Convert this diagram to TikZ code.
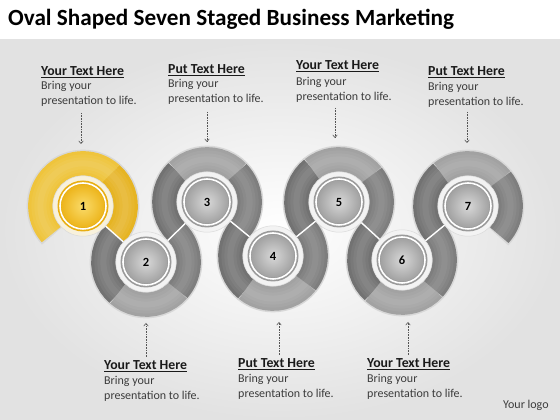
\documentclass[tikz,border=0pt]{standalone}
\usepackage{fontspec}
\setmainfont{Carlito}
\usetikzlibrary{calc,arrows.meta}
\definecolor{bgedge}{HTML}{E2E2E2}
\definecolor{bandDark}{HTML}{727272}
\definecolor{bandLight}{HTML}{A2A2A2}
\definecolor{bandMed}{HTML}{7E7E7E}
\definecolor{glowc}{HTML}{D8D8D8}
\definecolor{yelLight}{HTML}{EFC43C}
\definecolor{yelDark}{HTML}{E6B423}
\definecolor{halofill}{HTML}{F3F3F3}
\definecolor{halodraw}{HTML}{DADADA}
\definecolor{rimgray}{HTML}{9A9A9A}
\definecolor{discin}{HTML}{D8D8D8}
\definecolor{discout}{HTML}{A2A2A2}
\definecolor{rimyel}{HTML}{E8AE12}
\definecolor{discyin}{HTML}{FADB6A}
\definecolor{discyout}{HTML}{EDB51C}
\definecolor{haloyel}{HTML}{F8F1DC}
\definecolor{txtbody}{HTML}{3C3C3C}
\definecolor{txthead}{HTML}{1A1A1A}
\definecolor{arrowc}{HTML}{555555}
\newcommand{\bandseg}[4]{\draw[#4] ($(#1)+(#2:42.6)$) arc[start angle=#2,end angle=#3,radius=42.6];}
\newcommand{\bandshine}[3]{%
  \bandseg{#1}{#2}{#3}{shineA}\bandseg{#1}{#2}{#3}{shineB}\bandseg{#1}{#2}{#3}{shineC}}
\tikzset{
  glowline/.style={glowc,line width=27.5pt},
  bandD/.style={bandDark,line width=24.5pt},
  bandL/.style={bandLight,line width=24.5pt},
  bandM/.style={bandMed,line width=24.5pt},
  yelL/.style={yelLight,line width=24.5pt},
  yelD/.style={yelDark,line width=24.5pt},
  shineA/.style={white,opacity=0.05,line width=18pt},
  shineB/.style={white,opacity=0.05,line width=12pt},
  shineC/.style={white,opacity=0.05,line width=6pt},
  sepline/.style={white,line width=1.4pt},
  numlbl/.style={font=\bfseries\fontsize{12.5}{14}\selectfont,text=black,inner sep=0pt},
  headlbl/.style={font=\bfseries\fontsize{13.8}{16}\selectfont,text=txthead,anchor=base west,inner sep=0pt},
  bodylbl/.style={font=\fontsize{12}{14}\selectfont,text=txtbody,anchor=base west,inner sep=0pt},
  conn/.style={arrowc,densely dotted,line width=0.6pt,-{Straight Barb[length=2.6pt,width=4.5pt]}}
}
\begin{document}
\begin{tikzpicture}[x=1pt,y=1pt]
\useasboundingbox (0,0) rectangle (560,420);
\fill[white] (0,0) rectangle (560,420);
\shade[inner color=white,outer color=bgedge] (0,0) rectangle (560,380);
% title
\node[anchor=base west,inner sep=0pt,font=\bfseries\fontsize{23.2}{27}\selectfont,text=black] (title) at (8,394) {Oval Shaped Seven Staged Business Marketing};
% centres
\coordinate (c1) at (83,214);
\coordinate (c2) at (146,158);
\coordinate (c3) at (207,218);
\coordinate (c4) at (273,164);
\coordinate (c5) at (339,218);
\coordinate (c6) at (402,160);
\coordinate (c7) at (468,214);
% glow under bands
\bandseg{c1}{224}{-41.6}{glowline}
\bandseg{c2}{138.4}{404.5}{glowline}
\bandseg{c3}{224.5}{-39.3}{glowline}
\bandseg{c4}{140.7}{399.3}{glowline}
\bandseg{c5}{219.3}{-42.6}{glowline}
\bandseg{c6}{137.4}{399.3}{glowline}
\bandseg{c7}{219.3}{-45}{glowline}
% ring 1 (yellow)
\bandseg{c1}{222}{48}{yelL}
\bandseg{c1}{49}{-41.6}{yelD}
% ring 2
\bandseg{c2}{138.4}{229}{bandD}
\bandseg{c2}{228.4}{319}{bandL}
\bandseg{c2}{318.4}{404.5}{bandM}
% ring 3
\bandseg{c3}{224.5}{134}{bandD}
\bandseg{c3}{134.5}{44}{bandL}
\bandseg{c3}{44.5}{-39.3}{bandM}
% ring 4
\bandseg{c4}{140.7}{231.3}{bandD}
\bandseg{c4}{230.7}{321.3}{bandL}
\bandseg{c4}{320.7}{399.3}{bandM}
% ring 5
\bandseg{c5}{219.3}{128.7}{bandD}
\bandseg{c5}{129.3}{38.7}{bandL}
\bandseg{c5}{39.3}{-42.6}{bandM}
% ring 6
\bandseg{c6}{137.4}{228}{bandD}
\bandseg{c6}{227.4}{318}{bandL}
\bandseg{c6}{317.4}{399.3}{bandM}
% ring 7
\bandseg{c7}{219.3}{128.7}{bandD}
\bandseg{c7}{129.3}{38.7}{bandL}
\bandseg{c7}{39.3}{-43}{bandM}
% soft tube highlight
\bandshine{c1}{222}{-41.6}
\bandshine{c2}{138.4}{404.5}
\bandshine{c3}{224.5}{-39.3}
\bandshine{c4}{140.7}{399.3}
\bandshine{c5}{219.3}{-42.6}
\bandshine{c6}{137.4}{399.3}
\bandshine{c7}{219.3}{-43}
% junction separators
\draw[sepline] ($(c1)!29pt!(c2)$) -- ($(c2)!29pt!(c1)$);
\draw[sepline] ($(c2)!29pt!(c3)$) -- ($(c3)!29pt!(c2)$);
\draw[sepline] ($(c3)!29pt!(c4)$) -- ($(c4)!29pt!(c3)$);
\draw[sepline] ($(c4)!29pt!(c5)$) -- ($(c5)!29pt!(c4)$);
\draw[sepline] ($(c5)!29pt!(c6)$) -- ($(c6)!29pt!(c5)$);
\draw[sepline] ($(c6)!29pt!(c7)$) -- ($(c7)!29pt!(c6)$);
% discs
\fill[haloyel,draw=halodraw,line width=0.5pt] (c1) circle (30.2);
\fill[rimyel] (c1) circle (25.5);
\draw[white,line width=1.6pt] (c1) circle (23);
\shade[inner color=discyin,outer color=discyout] (c1) circle (21.4);
\foreach \c in {c2,c3,c4,c5,c6,c7}{
  \fill[halofill,draw=halodraw,line width=0.5pt] (\c) circle (30.2);
  \fill[rimgray] (\c) circle (25.5);
  \draw[white,line width=1.6pt] (\c) circle (23);
  \shade[inner color=discin,outer color=discout] (\c) circle (21.4);
}
\node[numlbl] (n1) at (c1) {1};
\node[numlbl] (n2) at (c2) {2};
\node[numlbl] (n3) at (c3) {3};
\node[numlbl] (n4) at (c4) {4};
\node[numlbl] (n5) at (c5) {5};
\node[numlbl] (n6) at (c6) {6};
\node[numlbl] (n7) at (c7) {7};
% top text blocks
\node[headlbl] (h1) at (41,344) {\underline{Your Text Here}};
\node[bodylbl] (a1) at (41,330) {Bring your};
\node[bodylbl] (b1) at (41,315) {presentation to life.};
\node[headlbl] (h3) at (168,346) {\underline{Put Text Here}};
\node[bodylbl] (a3) at (168,332) {Bring your};
\node[bodylbl] (b3) at (168,317) {presentation to life.};
\node[headlbl] (h5) at (296,350) {\underline{Your Text Here}};
\node[bodylbl] (a5) at (296,334) {Bring your};
\node[bodylbl] (b5) at (296,319) {presentation to life.};
\node[headlbl] (h7) at (428,344) {\underline{Put Text Here}};
\node[bodylbl] (a7) at (428,329) {Bring your};
\node[bodylbl] (b7) at (428,314) {presentation to life.};
% bottom text blocks
\node[headlbl] (h2) at (104,50) {\underline{Your Text Here}};
\node[bodylbl] (a2) at (104,35) {Bring your};
\node[bodylbl] (b2) at (104,20) {presentation to life.};
\node[headlbl] (h4) at (238,52.5) {\underline{Put Text Here}};
\node[bodylbl] (a4) at (238,37.5) {Bring your};
\node[bodylbl] (b4) at (238,22.5) {presentation to life.};
\node[headlbl] (h6) at (367,52.5) {\underline{Your Text Here}};
\node[bodylbl] (a6) at (367,37.5) {Bring your};
\node[bodylbl] (b6) at (367,22.5) {presentation to life.};
\node[bodylbl] (logo) at (503,11.5) {Your logo};
% connectors
\coordinate (s1) at (81,307); \coordinate (e1) at (81,276);
\coordinate (s3) at (207,308); \coordinate (e3) at (207,278);
\coordinate (s5) at (335,312); \coordinate (e5) at (335,282);
\coordinate (s7) at (467,308); \coordinate (e7) at (467,277);
\coordinate (s2) at (146,63); \coordinate (e2) at (146,97);
\coordinate (s4) at (279,65); \coordinate (e4) at (279,98);
\coordinate (s6) at (408,65); \coordinate (e6) at (408,98);
\draw[conn] (s1) -- (e1);
\draw[conn] (s3) -- (e3);
\draw[conn] (s5) -- (e5);
\draw[conn] (s7) -- (e7);
\draw[conn] (s2) -- (e2);
\draw[conn] (s4) -- (e4);
\draw[conn] (s6) -- (e6);
\end{tikzpicture}
\end{document}
